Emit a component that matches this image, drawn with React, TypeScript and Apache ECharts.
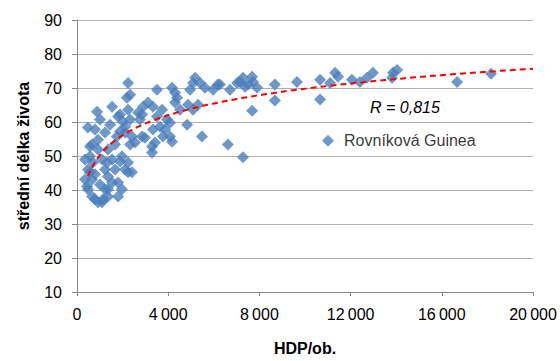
import React, { useEffect, useRef } from "react";
import * as echarts from "echarts";

// HDP na obyvatele (x) a střední délka života (y)
const HDP_PER_CAPITA: number[] = [
  18160, 16670, 14040, 13860, 13820, 12980, 12720, 12410, 12060, 11320,
  11450, 11100, 10660, 10660, 9650, 8680, 8680, 7900, 7720, 7680,
  7500, 7370, 7280, 7150, 7020, 7680, 7280, 6620, 6710, 6270,
  5970, 6180, 5610, 5400, 5180, 5090, 4960, 5480, 5310, 5090,
  4870, 4830, 4520, 4390, 4300, 4300, 4170, 4080, 4080, 3950,
  3860, 3770, 3730, 3640, 3510, 3510, 3420, 3330, 3330, 3290,
  3110, 2980, 2900, 2850, 2850, 2680, 2540, 2410, 2330, 2330,
  2240, 2190, 2240, 2110, 2110, 2020, 1890, 1890, 1800, 1750,
  1540, 1230, 880, 480, 920, 660, 570, 570, 700, 480,
  570, 660, 440, 480, 660, 790, 920, 1100, 1140, 1230,
  1360, 1360, 1800, 1800, 1970, 1540, 1360, 1230, 1670, 1890,
  2110, 2240, 2410, 2240, 1970, 1540, 1320, 1360, 920, 3290,
  1670, 1100, 790, 1010, 350, 350, 1450, 1010, 790, 2760,
  2330, 4170,
];
const LIFE_EXPECTANCY: number[] = [
  74.2, 71.8, 75.3, 74.5, 73.0, 74.5, 73.0, 71.8, 72.4, 74.5,
  73.3, 71.5, 72.4, 66.6, 71.8, 71.0, 66.3, 70.1, 71.8, 73.3,
  71.0, 70.4, 73.0, 71.8, 71.5, 63.3, 49.6, 53.4, 69.5, 71.0,
  69.5, 71.0, 70.1, 71.5, 73.0, 71.5, 69.5, 55.7, 65.1, 63.6,
  65.1, 59.2, 63.6, 67.1, 65.7, 68.6, 70.1, 59.8, 55.7, 60.7,
  57.8, 55.7, 63.6, 58.6, 69.5, 61.6, 54.0, 64.5, 57.8, 52.8,
  65.7, 55.4, 64.5, 62.2, 55.7, 62.7, 54.0, 55.7, 53.4, 68.0,
  71.5, 67.1, 63.6, 58.6, 56.9, 60.1, 62.2, 57.2, 61.6, 55.7,
  64.5, 56.9, 63.0, 58.4, 54.8, 53.4, 52.8, 49.9, 48.1, 46.0,
  45.2, 43.1, 41.1, 40.2, 38.1, 37.3, 36.4, 36.4, 37.3, 40.2,
  38.1, 40.2, 38.1, 42.2, 40.2, 42.2, 44.0, 46.0, 46.0, 48.4,
  46.0, 45.2, 45.2, 48.1, 49.9, 49.0, 48.1, 51.9, 51.9, 51.0,
  53.4, 49.0, 44.6, 41.6, 43.1, 49.0, 59.2, 60.7, 57.8, 60.7,
  60.7, 54.2,
];

// Označená země
const LABELED_NAME = "Rovníková Guinea";
const LABELED_HDP = 11010;
const LABELED_LIFE = 54.5;

// Logaritmický trend y = a·ln(x) + b (koeficienty)
const TREND_A = 8.5;
const TREND_B = -8.5;
const TREND_FROM = 480;
const TREND_TO = 20000;

const R_TEXT = "R = 0,815";

const FONT = 'Arial, "Liberation Sans", sans-serif';

function formatThousands(v: number): string {
  const s = String(Math.round(v));
  return s.replace(/\B(?=(\d{3})+(?!\d))/g, "\u2009");
}

export default function App() {
  const ref = useRef<HTMLDivElement>(null);

  useEffect(() => {
    document.body.style.margin = "0";
    if (!ref.current) return;
    const chart = echarts.init(ref.current, undefined, { renderer: "svg" });

    const trend: number[][] = [];
    const steps = 200;
    for (let i = 0; i <= steps; i++) {
      const x = TREND_FROM * Math.pow(TREND_TO / TREND_FROM, i / steps);
      trend.push([x, TREND_A * Math.log(x) + TREND_B]);
    }

    const points = HDP_PER_CAPITA.map((x, i) => [x, LIFE_EXPECTANCY[i]]);

    chart.setOption({
      animation: false,
      textStyle: { fontFamily: FONT },
      grid: { left: 77, right: 27, top: 20, bottom: 68 },
      xAxis: {
        type: "value",
        min: 0,
        max: 20000,
        interval: 4000,
        name: "HDP/ob.",
        nameLocation: "middle",
        nameGap: 48,
        nameTextStyle: { fontFamily: FONT, fontSize: 16, fontWeight: "bold", color: "#000" },
        axisLine: { lineStyle: { color: "#868686", width: 1 } },
        axisTick: { show: true, length: 4, lineStyle: { color: "#868686" } },
        axisLabel: {
          fontFamily: FONT,
          fontSize: 16,
          color: "#000",
          margin: 14,
          formatter: (v: number) => formatThousands(v),
        },
        splitLine: { show: false },
      },
      yAxis: {
        type: "value",
        min: 10,
        max: 90,
        interval: 10,
        name: "střední délka života",
        nameLocation: "middle",
        nameGap: 46,
        nameTextStyle: { fontFamily: FONT, fontSize: 16, fontWeight: "bold", color: "#000" },
        axisLine: { show: true, lineStyle: { color: "#868686", width: 1 } },
        axisTick: { show: true, length: 5, lineStyle: { color: "#868686" } },
        axisLabel: { fontFamily: FONT, fontSize: 16, color: "#000", margin: 15 },
        splitLine: { show: true, lineStyle: { color: "#b0b0b0", width: 1 } },
      },
      series: [
        {
          type: "scatter",
          symbol: "diamond",
          symbolSize: 12,
          itemStyle: { color: "#4a7ebb" },
          data: points,
          z: 2,
        },
        {
          type: "scatter",
          symbol: "diamond",
          symbolSize: 12,
          itemStyle: { color: "#4a7ebb" },
          data: [[LABELED_HDP, LABELED_LIFE]],
          label: {
            show: true,
            position: "right",
            distance: 10,
            formatter: LABELED_NAME,
            fontFamily: FONT,
            fontSize: 16,
            color: "#000",
          },
          z: 2,
        },
        {
          type: "line",
          data: trend,
          showSymbol: false,
          symbol: "none",
          lineStyle: { color: "#ff0000", width: 2, type: [6, 4] },
          z: 5,
        },
      ],
      graphic: [
        {
          type: "text",
          left: 370,
          top: 99,
          style: {
            text: R_TEXT,
            fontFamily: FONT,
            fontSize: 16,
            fontStyle: "italic",
            fill: "#000",
          },
        },
      ],
    });

    return () => chart.dispose();
  }, []);

  return <div ref={ref} style={{ width: 560, height: 361 }} />;
}
